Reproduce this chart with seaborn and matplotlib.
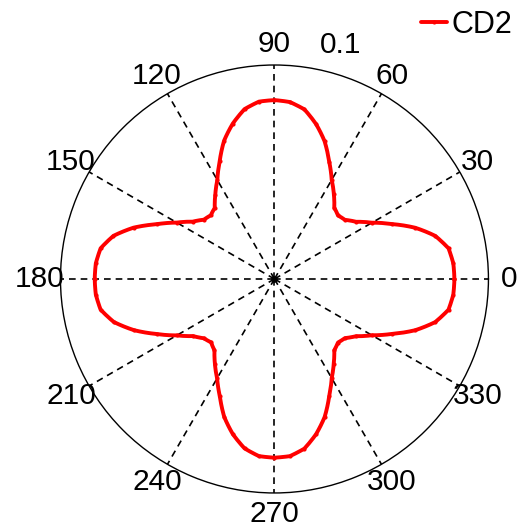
import numpy as np
import pandas as pd
import matplotlib
matplotlib.use("Agg")
import matplotlib.pyplot as plt
import seaborn as sns

sns.set_style("white")
plt.rcParams["font.family"] = ["Liberation Sans", "DejaVu Sans"]
plt.rcParams.update({"text.color": "black", "xtick.color": "black",
                     "ytick.color": "black", "axes.labelcolor": "black"})

# Polar response of CD2, sampled every 5 degrees (0..355)
angles_deg = list(range(0, 360, 5))
cd2_values = [
    0.0841, 0.0839, 0.0826, 0.0778, 0.0700, 0.0607, 0.0526, 0.0466, 0.0430,
    0.0420, 0.0435, 0.0484, 0.0535, 0.0605, 0.0685, 0.0750, 0.0805, 0.0830,
    0.0836, 0.0832, 0.0806, 0.0752, 0.0688, 0.0606, 0.0534, 0.0482, 0.0434,
    0.0421, 0.0431, 0.0467, 0.0527, 0.0606, 0.0701, 0.0779, 0.0825, 0.0838,
    0.0840, 0.0838, 0.0825, 0.0777, 0.0699, 0.0608, 0.0527, 0.0465, 0.0431,
    0.0419, 0.0436, 0.0485, 0.0536, 0.0604, 0.0686, 0.0751, 0.0804, 0.0831,
    0.0835, 0.0831, 0.0805, 0.0751, 0.0686, 0.0605, 0.0535, 0.0483, 0.0435,
    0.0420, 0.0430, 0.0466, 0.0526, 0.0607, 0.0700, 0.0778, 0.0826, 0.0839,
]
theta_ticks = list(range(0, 360, 30))
r_max = 0.1
r_tick_label = "0.1"
series_name = "CD2"

# close the loop by repeating the first sample at 360 degrees
df = pd.DataFrame({
    "theta": np.deg2rad(angles_deg + [360]),
    "r": cd2_values + [cd2_values[0]],
})

fig = plt.figure(figsize=(5.2, 5.31), dpi=100)
ax = fig.add_axes([0.1163, 0.0716, 0.823, 0.806], projection="polar")

sns.lineplot(data=df, x="theta", y="r", ax=ax, sort=False, estimator=None,
             color="#ff0000", linewidth=2.8, marker="o", markersize=3.0,
             markeredgewidth=0, label=series_name, legend=False)
# draw segments between samples along arcs in polar space
for line in ax.get_lines():
    line.get_path()._interpolation_steps = 8

ax.set_ylim(0, r_max)
ax.set_yticks([r_max])
ax.set_yticklabels([])
ax.yaxis.grid(False)
ax.set_xticks(np.deg2rad(theta_ticks))
ax.set_xticklabels([str(t) for t in theta_ticks], fontsize=21.5)
ax.tick_params(axis="x", pad=4.5)
ax.xaxis.grid(True, color="black", linestyle=(0, (4, 3)), linewidth=1.2)
ax.spines["polar"].set_linewidth(1.0)
ax.spines["polar"].set_color("black")
ax.set_xlabel("")
ax.set_ylabel("")

# small solid hub where the spokes meet
ax.scatter([0], [0], s=14, color="black", zorder=3)

ax.text(np.deg2rad(74.2), 0.1136, r_tick_label, fontsize=21.5,
        ha="center", va="center", clip_on=False)

handles, labels = ax.get_legend_handles_labels()
fig.legend(handles, labels, loc="center right",
           bbox_to_anchor=(512 / 520, 1 - 25 / 531), frameon=False,
           fontsize=22, handlelength=0.85, handletextpad=0.15,
           borderpad=0, borderaxespad=0)

fig.savefig("out.png", dpi=100)
